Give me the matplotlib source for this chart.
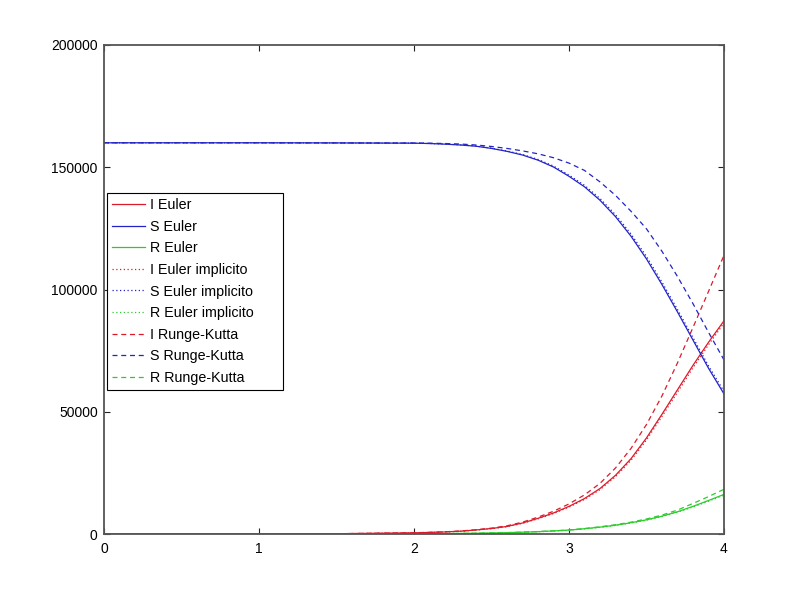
import matplotlib
matplotlib.use("Agg")
import matplotlib.pyplot as plt

plt.rcParams['font.family'] = ['Liberation Sans', 'DejaVu Sans']

# tempo
t = [0.0, 0.5, 1.0, 1.5, 2.0, 2.1, 2.2, 2.3, 2.4, 2.5, 2.6, 2.7, 2.8, 2.9,
     3.0, 3.1, 3.2, 3.3, 3.4, 3.5, 3.6, 3.7, 3.8, 3.9, 4.0]

# Euler esplicito
i_euler = [1, 5, 25, 110, 480, 640, 850, 1150, 1650, 2250, 3100, 4500, 6400, 8600,
           11300, 14500, 18600, 24000, 30800, 39300, 49000, 59000, 69000, 78400, 87200]
s_euler = [160000, 160000, 160000, 159950, 159850, 159700, 159450, 159100, 158600, 157700,
           156500, 155000, 152900, 150100,
           146300, 142000, 136500, 129800, 121800, 112500, 102000, 90800, 79300, 67800, 57300]
r_euler = [0, 0, 5, 20, 100, 120, 160, 220, 300, 410, 550, 730, 950, 1250,
           1600, 2150, 2800, 3600, 4600, 5800, 7300, 9100, 11300, 13700, 16200]

# Euler implicito
i_impl = [1, 5, 24, 105, 460, 620, 820, 1110, 1600, 2180, 3000, 4370, 6220, 8380,
          11000, 14150, 18150, 23450, 30150, 38500, 48100, 58000, 68000, 77400, 86300]
s_impl = [160000, 160000, 160000, 159950, 159860, 159720, 159480, 159150, 158680, 157800,
          156650, 155200, 153200, 150500,
          146800, 142600, 137200, 130600, 122700, 113500, 103000, 91800, 80300, 68800, 58300]
r_impl = [0, 0, 5, 20, 95, 115, 155, 210, 290, 400, 535, 710, 920, 1210,
          1550, 2090, 2720, 3500, 4480, 5650, 7120, 8900, 11050, 13420, 15900]

# Runge-Kutta
i_rk = [1, 5, 26, 115, 500, 680, 900, 1230, 1750, 2400, 3350, 4850, 6900, 9300,
        12300, 16000, 20700, 27000, 35000, 44800, 56500, 70000, 84500, 99200, 114000]
s_rk = [160000, 160000, 160000, 159950, 159900, 159850, 159700, 159500, 159100, 158500,
        157700, 156700, 155500, 153900,
        151700, 148700, 144000, 138500, 132000, 124800, 115600, 105300, 94200, 82500, 71200]
r_rk = [0, 0, 5, 20, 100, 125, 170, 230, 310, 430, 580, 760, 1000, 1300,
        1650, 2250, 2950, 3800, 4850, 6150, 7750, 9800, 12500, 15300, 18300]

x_ticks = [0, 1, 2, 3, 4]
y_ticks = [0, 50000, 100000, 150000, 200000]

red = '#dd1a2a'
blue = '#2323c8'
green = '#2ccc2c'
dotted = (0, (1, 2))
dashed = (0, (4, 3))


def main() -> None:
    fig = plt.figure(figsize=(8, 6), dpi=100)
    ax = fig.add_axes([0.13, 0.11, 0.775, 0.815])

    lw = 0.9
    ax.plot(t, i_euler, color=red, lw=lw, label='I Euler')
    ax.plot(t, s_euler, color=blue, lw=lw, label='S Euler')
    ax.plot(t, r_euler, color=green, lw=lw, label='R Euler')
    ax.plot(t, i_impl, color=red, lw=lw, ls=dotted, label='I Euler implicito')
    ax.plot(t, s_impl, color=blue, lw=lw, ls=dotted, label='S Euler implicito')
    ax.plot(t, r_impl, color=green, lw=lw, ls=dotted, label='R Euler implicito')
    ax.plot(t, i_rk, color=red, lw=lw, ls=dashed, label='I Runge-Kutta')
    ax.plot(t, s_rk, color=blue, lw=lw, ls=dashed, label='S Runge-Kutta')
    ax.plot(t, r_rk, color=green, lw=lw, ls=dashed, label='R Runge-Kutta')

    ax.set_xlim(0, 4)
    ax.set_ylim(0, 200000)
    ax.set_xticks(x_ticks)
    ax.set_yticks(y_ticks)
    ax.set_xticklabels([str(v) for v in x_ticks])
    ax.set_yticklabels([str(v) for v in y_ticks])

    ax.tick_params(direction='in', length=4, width=0.8, color='#222222',
                   labelsize=10, top=True, right=True)
    ax.tick_params(axis='x', pad=6)
    ax.tick_params(axis='y', pad=4.5)
    for sp in ax.spines.values():
        sp.set_color('#555555')
        sp.set_linewidth(1.3)

    # legenda larga come nell'originale (Octave)
    leg = ax.legend(loc='upper left', bbox_to_anchor=(0.005, 0.697, 0.284, 0.0),
                    mode='expand', fontsize=10.3, frameon=True, fancybox=False,
                    framealpha=1, edgecolor='black', borderaxespad=0,
                    handlelength=2.3, handletextpad=0.35, labelspacing=0.53,
                    borderpad=0.35)
    leg.get_frame().set_linewidth(0.8)

    fig.savefig('out.png', dpi=100)


if __name__ == '__main__':
    main()
